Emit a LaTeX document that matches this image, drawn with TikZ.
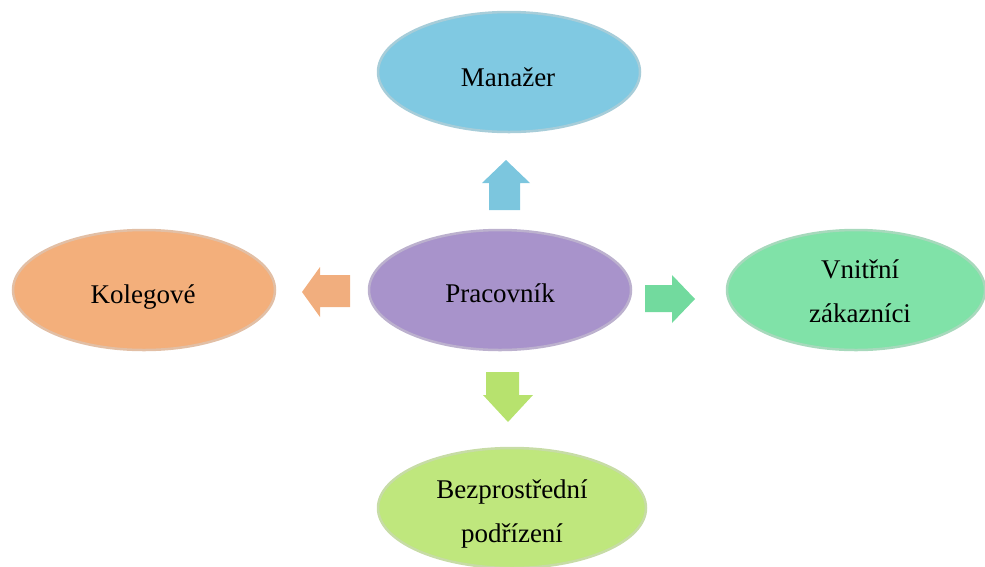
\documentclass[tikz,border=0pt]{standalone}
\usepackage{fontspec}
\setmainfont{Liberation Serif}
\usetikzlibrary{shapes.geometric}
\definecolor{cblue}{HTML}{80C9E2}
\definecolor{cpurple}{HTML}{A893CB}
\definecolor{corange}{HTML}{F3AF7B}
\definecolor{cgreen}{HTML}{80E2A8}
\definecolor{clime}{HTML}{BFE77D}
\definecolor{ablue}{HTML}{7CC6DE}
\definecolor{agreen}{HTML}{72DA9E}
\definecolor{aorange}{HTML}{F1AE7E}
\definecolor{alime}{HTML}{B7E26E}
\tikzset{
  bubble/.style={ellipse, inner sep=0pt, minimum width=262pt, minimum height=120pt,
    fill=#1, draw=#1!85!black!60!white, line width=2.5pt},
  lbl/.style={anchor=base, inner sep=0pt, align=center,
    font=\fontsize{27}{44}\selectfont, text=black},
  blockarrow/.style={fill=#1, draw=none}
}
\begin{document}
\begin{tikzpicture}[x=1pt,y=-1pt]
\useasboundingbox (0,0) rectangle (985,566);
\node[bubble=cblue] (man) at (509,72) {};
\node[bubble=cpurple] (pra) at (500,290) {};
\node[bubble=corange] (kol) at (144,290) {};
\node[bubble=cgreen, minimum width=258pt] (vni) at (856,290) {};
\node[bubble=clime, minimum width=268pt] (bez) at (512,508) {};
\node[lbl] (mant) at (508,86) {Manažer};
\node[lbl] (prat) at (500,302) {Pracovník};
\node[lbl] (kolt) at (143,303) {Kolegové};
\node[lbl] (vnit) at (860,322) {Vnitřní\\zákazníci};
\node[lbl] (bezt) at (512,542) {Bezprostřední\\podřízení};
% block arrows
\fill[blockarrow=ablue] (489,210) -- (489,183) -- (482,183) -- (506,160) -- (530,183) -- (520,183) -- (520,210) -- cycle;
\fill[blockarrow=agreen] (645,285) -- (672,285) -- (672,275) -- (695,299) -- (672,323) -- (672,312) -- (645,312) -- cycle;
\fill[blockarrow=aorange] (350,275) -- (320,275) -- (320,267) -- (302,292) -- (320,317) -- (320,307) -- (350,307) -- cycle;
\fill[blockarrow=alime] (486,372) -- (486,395) -- (483,395) -- (508,422) -- (533,395) -- (519,395) -- (519,372) -- cycle;
\end{tikzpicture}
\end{document}
